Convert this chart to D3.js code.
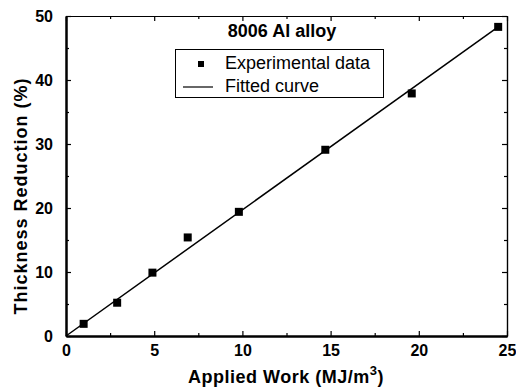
<!DOCTYPE html>
<html>
<head>
<meta charset="utf-8">
<script src="https://cdn.jsdelivr.net/npm/d3@7"></script>
<style>
  body { margin: 0; background: #fff; }
  svg { display: block; font-family: "Liberation Sans", Arial, sans-serif; }
</style>
</head>
<body>
<div id="chart"></div>
<script>
// Data ------------------------------------------------------------------------
const workValues = [1.0, 2.9, 4.9, 6.9, 9.8, 14.7, 19.6, 24.5];
const reductionValues = [1.9, 5.2, 9.9, 15.4, 19.4, 29.1, 37.9, 48.3];
const fitWork = [0, 24.5];
const fitReduction = [0, 48.3];
const xTicks = [0, 5, 10, 15, 20, 25];
const yTicks = [0, 10, 20, 30, 40, 50];

// Layout ----------------------------------------------------------------------
const width = 516;
const height = 389;
const plot = { left: 66, top: 16, right: 507, bottom: 336 };

const svg = d3.select("#chart")
  .append("svg")
  .attr("width", width)
  .attr("height", height);

const x = d3.scaleLinear().domain([0, 25]).range([plot.left, plot.right]);
const y = d3.scaleLinear().domain([0, 50]).range([plot.bottom, plot.top]);

// Axes with inward ticks, mirrored on top and right ---------------------------
const minorX = d3.range(2.5, 25, 5);
const minorY = d3.range(5, 50, 10);

function drawAxis(axis, transform, showLabels, lineWidth) {
  const g = svg.append("g")
    .attr("transform", transform)
    .call(axis);
  g.select(".domain").attr("stroke-width", lineWidth);
  g.selectAll(".tick line").attr("stroke-width", 1.2);
  if (!showLabels) g.selectAll(".tick text").remove();
  g.selectAll(".tick text")
    .attr("font-size", 16)
    .attr("font-weight", "bold")
    .attr("font-family", "'Liberation Sans', Arial, sans-serif")
    .attr("fill", "#000");
  return g;
}

// bottom
drawAxis(d3.axisBottom(x).tickValues(xTicks).tickSizeInner(-5).tickSizeOuter(0).tickPadding(9),
  `translate(0,${plot.bottom})`, true, 2);
drawAxis(d3.axisBottom(x).tickValues(minorX).tickSizeInner(-3).tickSizeOuter(0).tickFormat(""),
  `translate(0,${plot.bottom})`, false, 2);
// top
drawAxis(d3.axisTop(x).tickValues(xTicks).tickSizeInner(-5).tickSizeOuter(0),
  `translate(0,${plot.top})`, false, 1.2);
drawAxis(d3.axisTop(x).tickValues(minorX).tickSizeInner(-3).tickSizeOuter(0),
  `translate(0,${plot.top})`, false, 1.2);
// left
drawAxis(d3.axisLeft(y).tickValues(yTicks).tickSizeInner(-5).tickSizeOuter(0).tickPadding(13),
  `translate(${plot.left},0)`, true, 2);
drawAxis(d3.axisLeft(y).tickValues(minorY).tickSizeInner(-3).tickSizeOuter(0).tickFormat(""),
  `translate(${plot.left},0)`, false, 2);
// right
drawAxis(d3.axisRight(y).tickValues(yTicks).tickSizeInner(-5).tickSizeOuter(0),
  `translate(${plot.right},0)`, false, 1.2);
drawAxis(d3.axisRight(y).tickValues(minorY).tickSizeInner(-3).tickSizeOuter(0),
  `translate(${plot.right},0)`, false, 1.2);

// Axis titles -----------------------------------------------------------------
const xTitle = svg.append("text")
  .attr("x", 286)
  .attr("y", 383)
  .attr("text-anchor", "middle")
  .attr("font-size", 18)
  .attr("font-weight", "bold")
  .attr("letter-spacing", 0.5)
  .text("Applied Work (MJ/m");
xTitle.append("tspan").attr("dy", -8).attr("font-size", 13).text("3");
xTitle.append("tspan").attr("dy", 8).text(")");

svg.append("text")
  .attr("transform", "translate(27,196) rotate(-90)")
  .attr("text-anchor", "middle")
  .attr("font-size", 18)
  .attr("font-weight", "bold")
  .attr("letter-spacing", 1)
  .text("Thickness Reduction (%)");

// Fitted line and points ------------------------------------------------------
const fitData = fitWork.map((w, i) => [w, fitReduction[i]]);
svg.append("path")
  .datum(fitData)
  .attr("fill", "none")
  .attr("stroke", "#000")
  .attr("stroke-width", 1.5)
  .attr("d", d3.line().x(d => x(d[0])).y(d => y(d[1])));

const markerSize = 8;
svg.append("g")
  .selectAll("rect")
  .data(workValues.map((w, i) => [w, reductionValues[i]]))
  .join("rect")
  .attr("x", d => x(d[0]) - markerSize / 2)
  .attr("y", d => y(d[1]) - markerSize / 2)
  .attr("width", markerSize)
  .attr("height", markerSize)
  .attr("fill", "#000");

// Title and legend ------------------------------------------------------------
svg.append("text")
  .attr("x", 282)
  .attr("y", 37)
  .attr("text-anchor", "middle")
  .attr("font-size", 18)
  .attr("font-weight", "bold")
  .text("8006 Al alloy");

const legend = svg.append("g");
legend.append("rect")
  .attr("x", 175.5)
  .attr("y", 49.5)
  .attr("width", 208)
  .attr("height", 48)
  .attr("fill", "#fff")
  .attr("stroke", "#000")
  .attr("stroke-width", 1);
legend.append("rect")
  .attr("x", 198)
  .attr("y", 61)
  .attr("width", 6)
  .attr("height", 6)
  .attr("fill", "#000");
legend.append("text")
  .attr("x", 225)
  .attr("y", 69)
  .attr("font-size", 18)
  .text("Experimental data");
legend.append("line")
  .attr("x1", 183)
  .attr("x2", 213)
  .attr("y1", 87)
  .attr("y2", 87)
  .attr("stroke", "#000")
  .attr("stroke-width", 1.2);
legend.append("text")
  .attr("x", 225)
  .attr("y", 92)
  .attr("font-size", 18)
  .text("Fitted curve");
</script>
</body>
</html>
